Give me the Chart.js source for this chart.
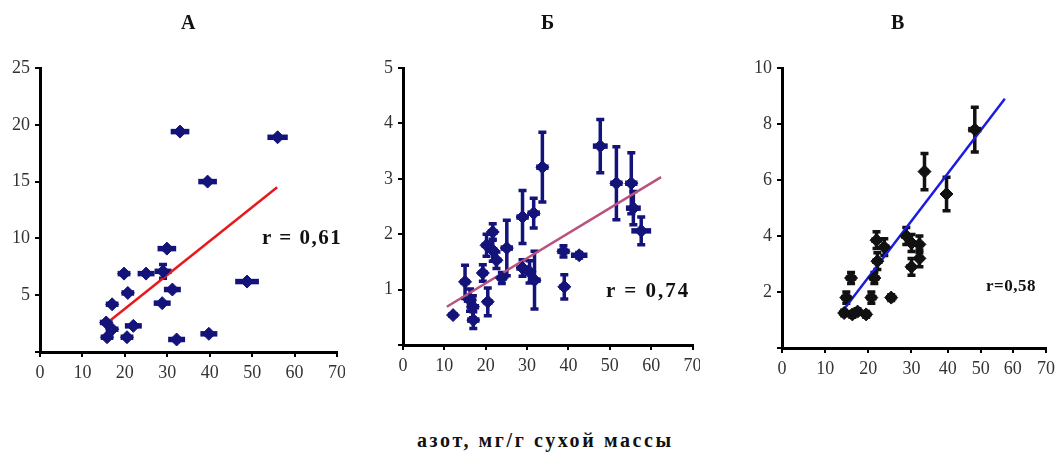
<!DOCTYPE html>
<html lang="ru">
<head>
<meta charset="UTF-8">
<title>Азот</title>
<script src="https://cdn.jsdelivr.net/npm/chart.js"></script>
<style>
  body { margin: 0; background: #fff; font-family: "Liberation Serif", serif; }
  #wrap { position: relative; width: 1056px; height: 454px; overflow: hidden; }
  .panel { position: absolute; top: 0; }
  .txt { position: absolute; font-weight: bold; color: #111; white-space: nowrap; }
</style>
</head>
<body>
<div id="wrap">
  <div class="panel" style="left:0px"><canvas id="cA" width="345" height="400"></canvas></div>
  <div class="panel" style="left:360px"><canvas id="cB" width="340" height="400"></canvas></div>
  <div class="panel" style="left:720px"><canvas id="cC" width="336" height="400"></canvas></div>

  <div class="txt" style="left:181px;top:11px;font-size:20px">А</div>
  <div class="txt" style="left:541px;top:11px;font-size:20px">Б</div>
  <div class="txt" style="left:891px;top:11px;font-size:20px">В</div>

  <div class="txt" style="left:262px;top:225px;font-size:21px;letter-spacing:1.5px">r = 0,61</div>
  <div class="txt" style="left:606px;top:278px;font-size:21px;letter-spacing:2px">r = 0,74</div>
  <div class="txt" style="left:986px;top:276px;font-size:17px;letter-spacing:0.5px">r=0,58</div>

  <div class="txt" style="left:417px;top:429px;font-size:20px;letter-spacing:2.6px">азот, мг/г сухой массы</div>
</div>

<script>
// панель А
const aX    = [33, 56, 39.5, 29.9, 19.8, 25, 29, 48.8, 20.7, 31.2, 17, 28.8, 15.6, 22, 17, 15.8, 20.5, 32.2, 39.8];
const aY    = [19.4, 18.9, 15.0, 9.1, 6.9, 6.9, 7.1, 6.2, 5.2, 5.5, 4.2, 4.3, 2.6, 2.3, 2.0, 1.3, 1.3, 1.1, 1.6];
const aXErr = [2.2, 2.4, 2.2, 2.2, 1.5, 2.0, 2.0, 2.8, 1.5, 2.0, 1.5, 2.0, 1.5, 2.0, 1.5, 1.5, 1.5, 2.0, 2.0];
const aYErr = [0, 0, 0, 0, 0, 0, 0.6, 0, 0, 0, 0, 0, 0, 0, 0, 0, 0, 0, 0];
const aFitX = [15.8, 55.9];
const aFitY = [2.55, 14.5];

// панель Б
const bX    = [12.1, 15, 16.2, 16.9, 17, 19.3, 20.5, 20.2, 21.7, 21.7, 22.6, 23.9, 25.1, 28.9, 31.6, 28.9, 30.6, 31.8, 33.7, 38.8, 42.6, 39, 47.7, 51.6, 55.2, 55.7, 57.6];
const bY    = [0.54, 1.14, 0.81, 0.69, 0.45, 1.3, 0.78, 1.8, 2.04, 1.71, 1.53, 1.21, 1.75, 2.31, 2.38, 1.39, 1.32, 1.17, 3.21, 1.69, 1.62, 1.05, 3.59, 2.92, 2.92, 2.47, 2.06];
const bXErr = [1.2, 1.2, 1.5, 1.5, 1.5, 1.2, 1.2, 1.2, 1.2, 1.2, 1.2, 1.2, 1.5, 1.5, 1.5, 1.5, 1.5, 1.5, 1.5, 1.5, 2.0, 1.2, 1.8, 1.5, 1.5, 1.8, 2.4];
const bYErr = [0, 0.3, 0.2, 0.2, 0.15, 0.15, 0.25, 0.2, 0.15, 0.2, 0.15, 0.1, 0.5, 0.48, 0.27, 0.15, 0.2, 0.52, 0.63, 0.1, 0.05, 0.22, 0.48, 0.66, 0.55, 0.3, 0.25];
const bFitX = [10.6, 62.4];
const bFitY = [0.69, 3.03];

// панель В
const cX    = [48.2, 33.6, 39.7, 28.8, 30, 32.2, 32.2, 30, 21.9, 23.7, 22.1, 21.4, 20.7, 25.3, 16, 14.9, 14.4, 16.3, 19.5, 17.5];
const cY    = [7.8, 6.3, 5.5, 4.0, 3.75, 3.7, 3.2, 2.9, 3.85, 3.6, 3.1, 2.5, 1.8, 1.8, 2.5, 1.8, 1.25, 1.2, 1.2, 1.3];
const cXErr = [2.0, 1.2, 1.2, 1.2, 1.2, 1.2, 1.2, 1.2, 1.2, 1.2, 1.2, 1.2, 1.2, 1.2, 1.2, 1.2, 1.2, 1.2, 1.2, 1.2];
const cYErr = [0.8, 0.65, 0.6, 0.3, 0.3, 0.3, 0.3, 0.3, 0.3, 0.3, 0.3, 0.2, 0.2, 0.1, 0.2, 0.2, 0.1, 0.1, 0.1, 0.1];
const cFitX = [13.7, 57.5];
const cFitY = [1.25, 8.9];

// на панели В деления оси X идут неравномерно (как в оригинале)
const cBreaks = [0, 43, 86, 129, 165, 198, 230, 263].map(v => v / 263);

class WarpScale extends Chart.LinearScale {
  static id = 'warp';
  static defaults = Chart.LinearScale.defaults;
  getPixelForValue(v) {
    const i = Math.max(0, Math.min(cBreaks.length - 2, Math.floor(v / 10)));
    const f = cBreaks[i] + (cBreaks[i + 1] - cBreaks[i]) * (v / 10 - i);
    return this.left + f * this.width;
  }
}
Chart.register(WarpScale);

// усы погрешностей
const errorBars = {
  id: 'errorBars',
  beforeDatasetsDraw(chart) {
    const ds = chart.data.datasets[0];
    const sx = chart.scales.x, sy = chart.scales.y;
    const ctx = chart.ctx;
    ctx.save();
    ctx.strokeStyle = ds.backgroundColor;
    ds.data.forEach((p, i) => {
      const x = sx.getPixelForValue(p.x), y = sy.getPixelForValue(p.y);
      const ex = ds.xErr[i], ey = ds.yErr[i];
      if (ex) {
        ctx.lineWidth = 5.5;
        ctx.beginPath();
        ctx.moveTo(sx.getPixelForValue(p.x - ex), y);
        ctx.lineTo(sx.getPixelForValue(p.x + ex), y);
        ctx.stroke();
      }
      if (ey) {
        const y1 = sy.getPixelForValue(p.y + ey), y2 = sy.getPixelForValue(p.y - ey);
        ctx.lineWidth = 3.5;
        ctx.beginPath();
        ctx.moveTo(x, y1); ctx.lineTo(x, y2);
        ctx.moveTo(x - 4, y1); ctx.lineTo(x + 4, y1);
        ctx.moveTo(x - 4, y2); ctx.lineTo(x + 4, y2);
        ctx.stroke();
      }
    });
    ctx.restore();
  }
};

function makePanel(id, xs, ys, xErr, yErr, fitX, fitY, o) {
  const pts = xs.map((x, i) => ({ x: x, y: ys[i] }));
  const fit = fitX.map((x, i) => ({ x: x, y: fitY[i] }));
  const tickFont = { family: 'Liberation Serif', size: 18 };
  return new Chart(document.getElementById(id), {
    type: 'scatter',
    data: {
      datasets: [{
        data: pts,
        xErr: xErr,
        yErr: yErr,
        backgroundColor: o.dot,
        borderColor: o.dot,
        pointStyle: 'rectRot',
        pointRadius: 6.5,
        borderWidth: 1
      }, {
        type: 'line',
        data: fit,
        borderColor: o.line,
        borderWidth: 2.5,
        pointRadius: 0,
        fill: false
      }]
    },
    options: {
      responsive: false,
      animation: false,
      layout: { padding: { left: 0, top: 68, right: o.padRight, bottom: 0 } },
      plugins: { legend: { display: false }, tooltip: { enabled: false } },
      scales: {
        x: {
          type: o.xType || 'linear',
          min: 0, max: 70,
          ticks: { stepSize: 10, font: tickFont, color: '#333', padding: 5, maxRotation: 0 },
          grid: { display: true, drawOnChartArea: false, drawTicks: true, tickLength: 5, color: '#000', lineWidth: 2 },
          border: { color: '#000', width: 3 },
          afterFit(s) { s.height = o.xHeight; s.paddingLeft = 0; s.paddingRight = 0; }
        },
        y: {
          min: 0, max: o.yMax,
          ticks: {
            stepSize: o.yStep, font: tickFont, color: '#333', padding: 5,
            callback: v => (v === 0 ? '' : v)
          },
          grid: { display: true, drawOnChartArea: false, drawTicks: true, tickLength: 5, color: '#000', lineWidth: 2 },
          border: { color: '#000', width: 3 },
          afterFit(s) { s.width = o.yWidth; s.paddingTop = 0; s.paddingBottom = 0; }
        }
      }
    },
    plugins: [errorBars]
  });
}

makePanel('cA', aX, aY, aXErr, aYErr, aFitX, aFitY,
  { dot: '#13137a', line: '#e8191c', yMax: 25, yStep: 5, yWidth: 40, xHeight: 48, padRight: 8 });
makePanel('cB', bX, bY, bXErr, bYErr, bFitX, bFitY,
  { dot: '#13137a', line: '#b8527e', yMax: 5, yStep: 1, yWidth: 43, xHeight: 55, padRight: 7 });
makePanel('cC', cX, cY, cXErr, cYErr, cFitX, cFitY,
  { dot: '#111111', line: '#1c1ce0', yMax: 10, yStep: 2, yWidth: 62, xHeight: 52, padRight: 10, xType: 'warp' });
</script>
</body>
</html>
